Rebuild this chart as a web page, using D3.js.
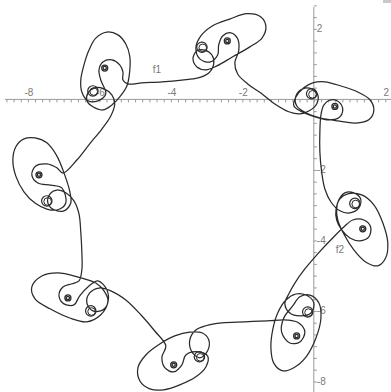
<!DOCTYPE html>
<html>
<head>
<meta charset="utf-8">
<script src="https://cdn.jsdelivr.net/npm/d3@7"></script>
<style>
  html, body { margin: 0; padding: 0; background: #fff; }
  svg { display: block; }
</style>
</head>
<body>
<svg id="chart" width="391" height="392"></svg>
<script>
// Parametric trace, split into the eight lobes it passes through (x, y in plot units)
const lobeA = [[-7.02,-2.09],[-6.63,-1.72],[-6.27,-1.26],[-5.93,-0.84],[-5.68,-0.47],[-5.57,-0.13],
  [-5.65,0.13],[-5.87,0.30],[-6.13,0.33],[-6.32,0.18],[-6.35,-0.04],[-6.18,-0.21],[-5.90,-0.30],[-5.65,-0.16],
  [-5.43,0.07],[-5.23,0.38],[-5.15,0.81],[-5.15,1.23],[-5.26,1.57],[-5.48,1.83],[-5.79,1.91],[-6.10,1.74],
  [-6.29,1.40],[-6.43,0.98],[-6.52,0.55],[-6.49,0.21],[-6.32,-0.04],[-6.04,-0.04],[-5.82,0.16],
  [-5.96,0.55],[-6.01,0.84],[-5.90,1.06],[-5.65,1.12],[-5.43,0.98],[-5.34,0.78],[-5.34,0.55],[-5.20,0.44],
  [-4.81,0.47],[-4.25,0.50],[-3.69,0.55]];
const lobeB = [[-3.24,0.61],[-2.94,0.75],[-2.80,1.01],[-2.85,1.26],[-3.05,1.40],[-3.27,1.38],[-3.38,1.15],
  [-3.27,0.92],[-3.02,0.84],[-2.71,0.95],[-2.27,1.21],[-1.79,1.49],[-1.45,1.74],[-1.34,2.06],[-1.48,2.34],
  [-1.87,2.43],[-2.35,2.28],[-2.83,2.09],[-3.16,1.80],[-3.30,1.46],[-3.19,1.15],[-2.91,1.06],[-2.69,1.26],
  [-2.66,1.55],[-2.55,1.80],[-2.32,1.89],[-2.13,1.72],[-2.10,1.38],[-2.21,1.04],[-2.13,0.72],[-1.85,0.44],
  [-1.48,0.18],[-1.09,-0.13],[-0.70,-0.35]];
const lobeC = [[-0.39,-0.41],[-0.14,-0.33],[0.08,-0.13],[0.11,0.13],[-0.06,0.30],[-0.31,0.30],[-0.50,0.10],
  [-0.48,-0.18],[-0.22,-0.38],[0.17,-0.52],[0.67,-0.61],[1.17,-0.67],[1.54,-0.58],[1.68,-0.30],[1.57,-0.01],
  [1.23,0.21],[0.76,0.38],[0.31,0.50],[-0.03,0.47],[-0.28,0.33],[-0.50,0.07],[-0.56,-0.18],[-0.34,-0.35],
  [0.06,-0.50],[0.42,-0.58],[0.70,-0.52],[0.81,-0.30],[0.70,-0.07],[0.48,-0.01],[0.28,-0.16],[0.20,-0.44],
  [0.17,-0.92],[0.17,-1.49],[0.22,-2.06]];
const lobeD = [[0.31,-2.54],[0.48,-2.91],[0.73,-3.16],[1.01,-3.22],[1.26,-3.08],[1.31,-2.82],[1.12,-2.65],
  [0.87,-2.65],[0.70,-2.85],[0.64,-3.08],[0.67,-3.42],[0.84,-3.82],[1.12,-4.27],[1.45,-4.61],[1.79,-4.72],
  [2.01,-4.50],[2.07,-4.07],[1.93,-3.50],[1.68,-2.99],[1.34,-2.71],[0.95,-2.68],[0.73,-2.82],[0.62,-3.13],
  [0.64,-3.42],[0.78,-3.70],[1.01,-3.93],[1.29,-4.01],[1.54,-3.90],[1.59,-3.62],[1.40,-3.42],[1.09,-3.42],
  [0.84,-3.62],[0.50,-3.96],[0.11,-4.38],[-0.25,-4.81],[-0.53,-5.21]];
const lobeE = [[-0.70,-5.52],[-0.81,-5.80],[-0.67,-6.06],[-0.39,-6.14],[-0.08,-6.06],[0.00,-5.77],[-0.22,-5.55],
  [-0.50,-5.52],[-0.78,-5.69],[-1.01,-6.06],[-1.15,-6.54],[-1.20,-7.05],[-1.12,-7.48],[-0.87,-7.70],[-0.56,-7.61],
  [-0.22,-7.31],[0.06,-6.77],[0.20,-6.20],[0.14,-5.77],[-0.11,-5.55],[-0.39,-5.60],[-0.59,-5.86],[-0.84,-6.20],
  [-0.90,-6.60],[-0.67,-6.91],[-0.39,-6.88],[-0.25,-6.60],[-0.42,-6.34],[-0.73,-6.26],[-1.29,-6.28],[-1.93,-6.31]];
const lobeF = [[-2.57,-6.34],[-3.02,-6.42],[-3.30,-6.54],[-3.47,-6.82],[-3.41,-7.16],[-3.19,-7.33],[-2.97,-7.13],
  [-2.94,-6.82],[-3.13,-6.62],[-3.47,-6.60],[-3.89,-6.71],[-4.31,-6.94],[-4.70,-7.25],[-4.92,-7.61],[-4.87,-7.98],
  [-4.59,-8.21],[-4.20,-8.24],[-3.75,-8.10],[-3.30,-7.87],[-3.02,-7.59],[-2.97,-7.28],[-3.24,-7.16],[-3.58,-7.25],
  [-3.69,-7.53],[-3.92,-7.73],[-4.17,-7.61],[-4.25,-7.31],[-4.14,-6.99],[-4.45,-6.57],[-4.84,-6.11],[-5.26,-5.69],
  [-5.68,-5.43]];
const lobeG = [[-6.01,-5.35],[-6.27,-5.49],[-6.35,-5.77],[-6.18,-6.00],[-5.90,-5.97],[-5.76,-5.72],[-5.87,-5.43],
  [-6.10,-5.21],[-6.60,-5.04],[-7.16,-4.92],[-7.61,-5.01],[-7.89,-5.32],[-7.80,-5.66],[-7.38,-5.94],[-6.83,-6.20],
  [-6.35,-6.31],[-5.96,-6.11],[-5.76,-5.75],[-5.79,-5.40],[-6.04,-5.15],[-6.32,-5.32],[-6.55,-5.57],[-6.71,-5.83],
  [-6.99,-5.80],[-7.13,-5.57],[-7.02,-5.32],[-6.77,-5.23],[-6.57,-5.15],[-6.49,-4.84],[-6.49,-4.33],[-6.52,-3.76]];
const lobeH = [[-6.57,-3.25],[-6.71,-2.88],[-6.94,-2.65],[-7.19,-2.57],[-7.38,-2.68],[-7.44,-2.94],[-7.27,-3.13],
  [-6.99,-3.16],[-6.80,-2.94],[-6.83,-2.60],[-6.97,-2.14],[-7.19,-1.60],[-7.47,-1.23],[-7.80,-1.09],[-8.11,-1.12],
  [-8.34,-1.35],[-8.42,-1.72],[-8.34,-2.17],[-8.11,-2.62],[-7.80,-2.94],[-7.47,-3.11],[-7.16,-3.13],[-6.94,-2.94],
  [-7.05,-2.51],[-7.36,-2.43],[-7.72,-2.37],[-7.89,-2.14],[-7.78,-1.89],[-7.47,-1.83],[-7.19,-1.94]];

// Small spiral knots: the ring-shaped ones at a lobe's end and the tight ones in its middle
const endKnots = [[-6.18,0.24],[-3.13,1.48],[-0.06,0.16],[1.15,-2.95],[-0.17,-6.03],[-3.20,-7.30],[-6.24,-6.00],[-7.47,-2.88]];
const midKnots = [[-5.85,0.89],[-2.42,1.66],[0.59,-0.20],[1.37,-3.67],[-0.48,-6.71],[-3.92,-7.53],[-6.88,-5.63],[-7.69,-2.14]];

// Axis labels and curve names
const xTickLabels = [-8, -6, -4, -2, 2];
const yTickLabels = [2, -2, -4, -6, -8];
const curveNames = ["f1", "f2"];
const curveNameX = [-4.39, 0.73];
const curveNameY = [0.84, -4.27];

const W = 391, H = 392;
const svg = d3.select("#chart");
const x = d3.scaleLinear().domain([-8.78, 2.16]).range([0, W]);
const y = d3.scaleLinear().domain([2.82, -8.30]).range([0, H]);

const axisColor = "#9a9a9a";
const labelColor = "#7a7a7a";

// minor tick positions
const xMinor = d3.range(-8.6, 2.15, 0.2).map(v => +v.toFixed(2));
const yMinor = d3.range(-8.333, 2.7, 1/3).map(v => +v.toFixed(3));

// x axis
const gx = svg.append("g").attr("transform", `translate(0,${y(0)})`);
gx.call(d3.axisBottom(x).tickValues(xMinor).tickSize(3).tickFormat(""));
gx.select(".domain").remove();
gx.selectAll(".tick line").attr("stroke", axisColor);
gx.append("line").attr("x1", 5).attr("x2", W).attr("stroke", axisColor);

// y axis
const gy = svg.append("g").attr("transform", `translate(${x(0)},0)`);
gy.call(d3.axisRight(y).tickValues(yMinor).tickSize(3).tickFormat(""));
gy.select(".domain").remove();
gy.selectAll(".tick line").attr("stroke", axisColor);
gy.append("line").attr("y1", 7).attr("y2", H).attr("stroke", axisColor);

// tick labels
svg.append("g").selectAll("text").data(xTickLabels).join("text")
  .attr("x", d => x(d) + 1).attr("y", y(0) - 3)
  .attr("text-anchor", "middle")
  .attr("font-family", "Liberation Sans, Arial, sans-serif").attr("font-size", 10)
  .attr("fill", labelColor).text(d => d);
svg.append("g").selectAll("text").data(yTickLabels).join("text")
  .attr("x", x(0) + 3).attr("y", d => y(d)).attr("dy", "0.35em")
  .attr("font-family", "Liberation Sans, Arial, sans-serif").attr("font-size", 10)
  .attr("fill", labelColor).text(d => d);

// the trace
const trace = [].concat(lobeA, lobeB, lobeC, lobeD, lobeE, lobeF, lobeG, lobeH);
const line = d3.line().x(d => x(d[0])).y(d => y(d[1])).curve(d3.curveCatmullRomClosed.alpha(0.5));
svg.append("path").datum(trace).attr("d", line)
  .attr("fill", "none").attr("stroke", "#2a2a2a").attr("stroke-width", 1.25);

// knots
const knots = svg.append("g").attr("fill", "none").attr("stroke", "#2a2a2a");
endKnots.forEach(([kx, ky]) => {
  knots.append("circle").attr("cx", x(kx)).attr("cy", y(ky)).attr("r", 5.2).attr("stroke-width", 1.2);
  knots.append("circle").attr("cx", x(kx) + 0.8).attr("cy", y(ky) + 0.6).attr("r", 3.8).attr("stroke-width", 1);
});
midKnots.forEach(([kx, ky]) => {
  knots.append("circle").attr("cx", x(kx)).attr("cy", y(ky)).attr("r", 3).attr("stroke-width", 1.3);
  knots.append("circle").attr("cx", x(kx)).attr("cy", y(ky)).attr("r", 1.6).attr("stroke-width", 1.3);
});

// curve names
svg.append("g").selectAll("text").data(curveNames).join("text")
  .attr("x", (d, i) => x(curveNameX[i])).attr("y", (d, i) => y(curveNameY[i])).attr("dy", "0.35em")
  .attr("text-anchor", "middle")
  .attr("font-family", "Liberation Sans, Arial, sans-serif").attr("font-size", 10)
  .attr("fill", labelColor).text(d => d);

// small marker in the top-right corner
svg.append("rect").attr("x", 383).attr("y", 0).attr("width", 8).attr("height", 3).attr("fill", "#c8c8c8");
</script>
</body>
</html>
